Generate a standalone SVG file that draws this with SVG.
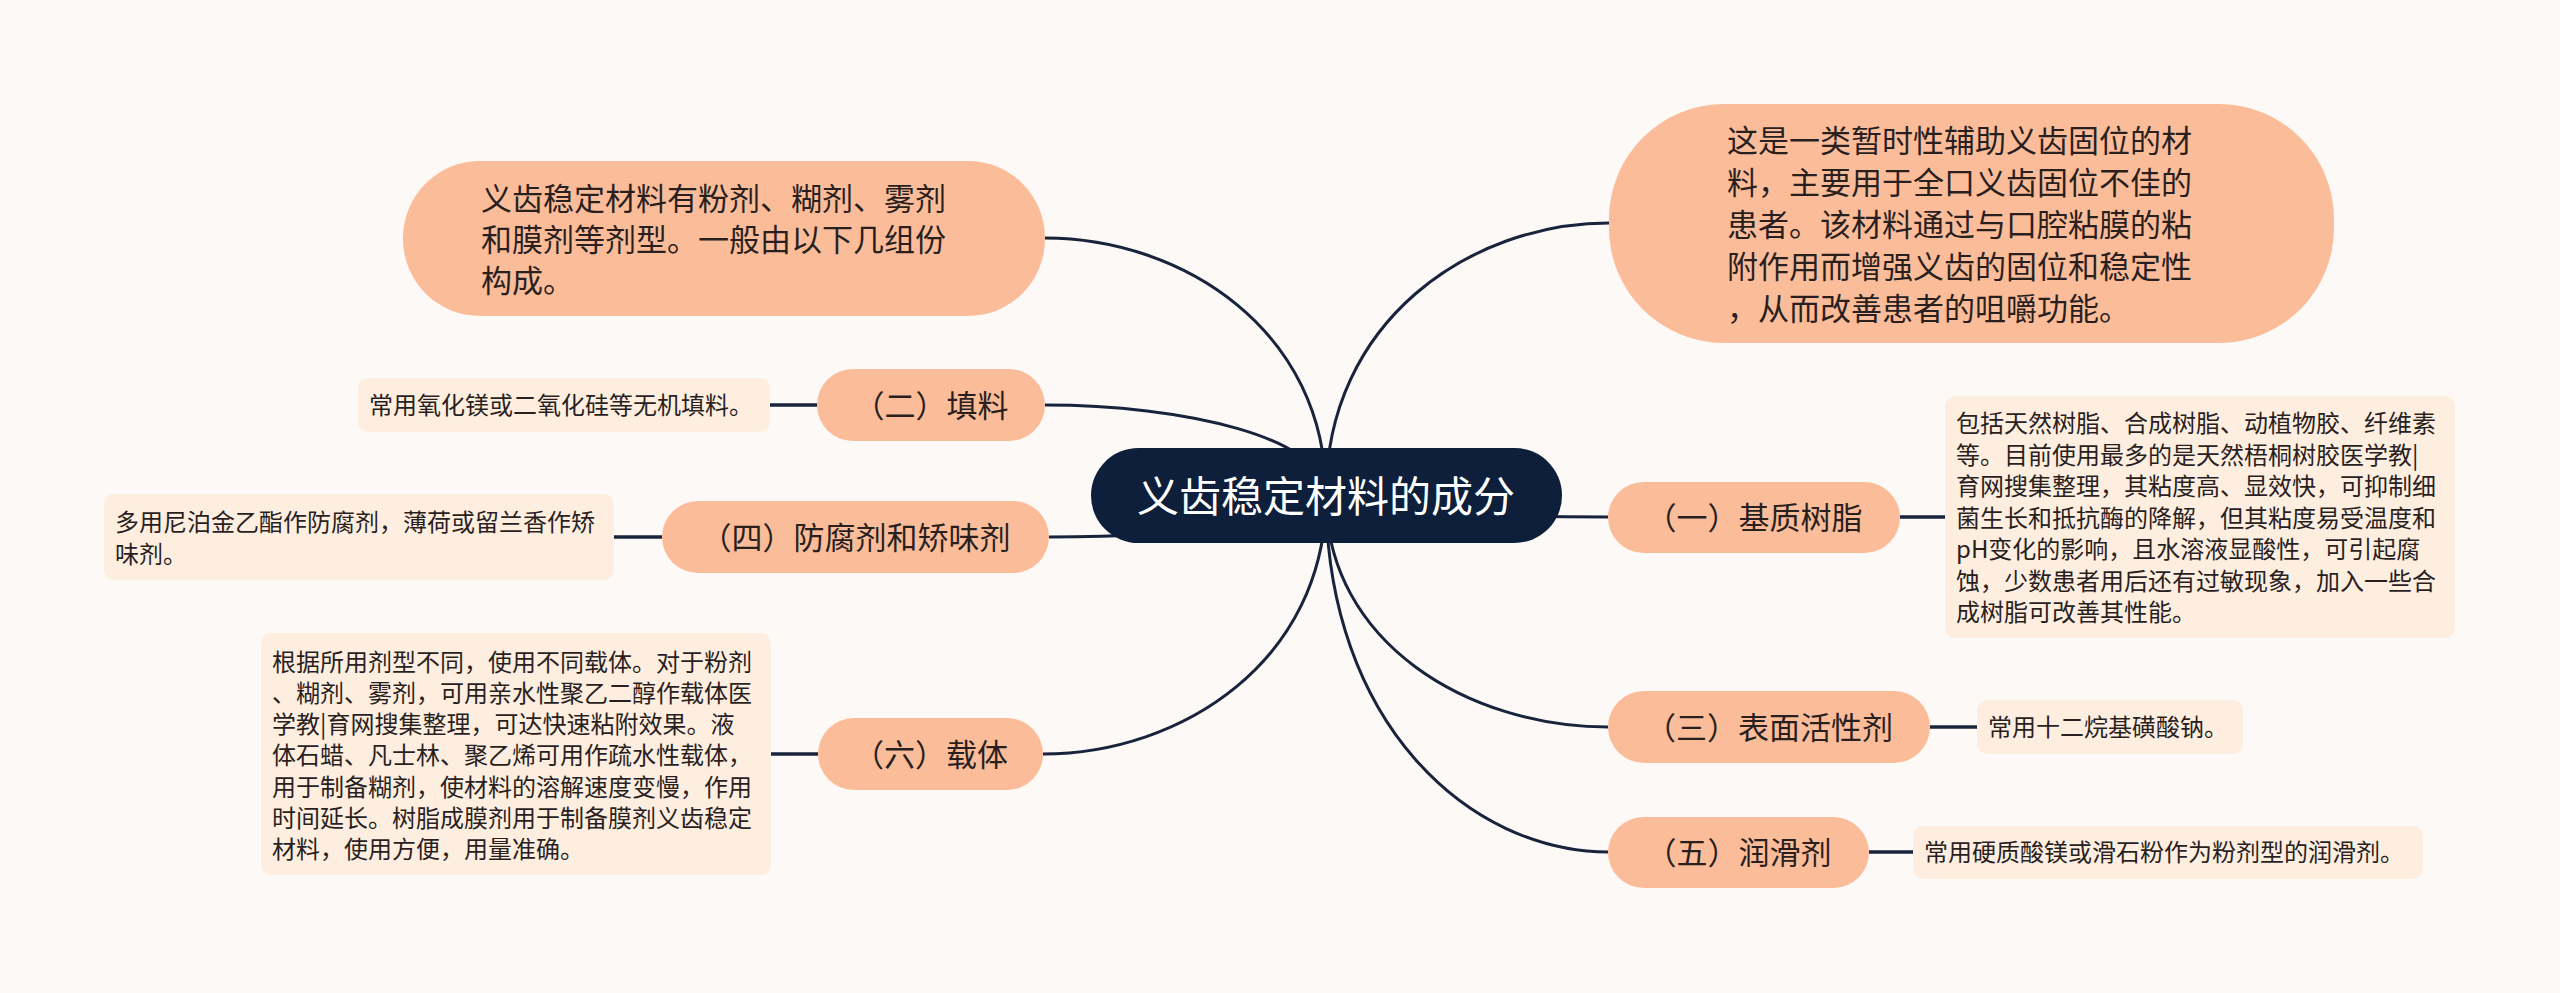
<svg xmlns="http://www.w3.org/2000/svg" width="2560" height="993" viewBox="0 0 2560 993">
<style>
.bg{fill:#fdf9f7}
.main{fill:#fbbd99}
.leaf{fill:#fdeee0}
.root{fill:#0e1f3b}
.ln{fill:none;stroke:#18233c;stroke-width:3}
.lk{fill:none;stroke:#18233c;stroke-width:3.5}
.t{font-family:"Noto Sans CJK SC","Noto Sans",sans-serif;fill:#2a1f1f}
.m{font-size:31px}
.c{text-anchor:middle}
.s{font-size:24px}
.r{font-size:42px;fill:#ffffff;text-anchor:middle}
</style>
<rect class="bg" x="0" y="0" width="2560" height="993"/>
<g id="connectors">
<path class="ln" d="M1326 495 C1326 330.5 1182.7 238 1045 238"/>
<path class="ln" d="M1326 495 C1326 437.4 1182.7 405 1045 405"/>
<path class="ln" d="M1326 495 C1326 521.9 1184.7 537 1049 537"/>
<path class="ln" d="M1326 495 C1326 660.8 1181.7 754 1043 754"/>
<path class="ln" d="M1326 495 C1326 321 1470.3 223 1609 223"/>
<path class="ln" d="M1326 495 C1326 509 1469.8 517 1608 517"/>
<path class="ln" d="M1326 495 C1326 643.5 1469.8 727 1608 727"/>
<path class="ln" d="M1326 495 C1326 723.5 1469.8 852 1608 852"/>
<path class="lk" d="M770 405 H817"/>
<path class="lk" d="M614 537 H662"/>
<path class="lk" d="M771 754 H818"/>
<path class="lk" d="M1900 517 H1945"/>
<path class="lk" d="M1930 727 H1977"/>
<path class="lk" d="M1869 852 H1913"/>
</g>
<g id="root">
<rect class="root" x="1091" y="448" width="471" height="95" rx="47.5"/>
<text class="t r" x="1326" y="512">义齿稳定材料的成分</text>
</g>
<g id="intro-left">
<rect class="main" x="403" y="161" width="642" height="155" rx="77"/>
<text class="t m" x="481" y="209.5">义齿稳定材料有粉剂、糊剂、雾剂</text>
<text class="t m" x="481" y="250.5">和膜剂等剂型。一般由以下几组份</text>
<text class="t m" x="481" y="291.5">构成。</text>
</g>
<g id="intro-right">
<rect class="main" x="1609" y="104" width="725" height="239" rx="115"/>
<text class="t m" x="1727" y="151.5">这是一类暂时性辅助义齿固位的材</text>
<text class="t m" x="1727" y="193.5">料，主要用于全口义齿固位不佳的</text>
<text class="t m" x="1727" y="235.5">患者。该材料通过与口腔粘膜的粘</text>
<text class="t m" x="1727" y="277.5">附作用而增强义齿的固位和稳定性</text>
<text class="t m" x="1727" y="319.5">，从而改善患者的咀嚼功能。</text>
</g>
<g id="n2">
<rect class="main" x="817" y="369" width="228" height="72" rx="36"/>
<text class="t m c" x="931" y="417">（二）填料</text>
</g>
<g id="n2-leaf">
<rect class="leaf" x="358" y="378" width="412" height="54" rx="10"/>
<text class="t s" x="369" y="414">常用氧化镁或二氧化硅等无机填料。</text>
</g>
<g id="n4">
<rect class="main" x="662" y="501" width="387" height="72" rx="36"/>
<text class="t m c" x="855.5" y="549">（四）防腐剂和矫味剂</text>
</g>
<g id="n4-leaf">
<rect class="leaf" x="104" y="494" width="510" height="86" rx="10"/>
<text class="t s" x="115" y="531">多用尼泊金乙酯作防腐剂，薄荷或留兰香作矫</text>
<text class="t s" x="115" y="563">味剂。</text>
</g>
<g id="n6">
<rect class="main" x="818" y="718" width="225" height="72" rx="36"/>
<text class="t m c" x="930.5" y="766">（六）载体</text>
</g>
<g id="n6-leaf">
<rect class="leaf" x="261" y="633" width="510" height="242" rx="10"/>
<text class="t s" x="272" y="670.5">根据所用剂型不同，使用不同载体。对于粉剂</text>
<text class="t s" x="272" y="701.8">、糊剂、雾剂，可用亲水性聚乙二醇作载体医</text>
<text class="t s" x="272" y="733.1">学教|育网搜集整理，可达快速粘附效果。液</text>
<text class="t s" x="272" y="764.4">体石蜡、凡士林、聚乙烯可用作疏水性载体，</text>
<text class="t s" x="272" y="795.7">用于制备糊剂，使材料的溶解速度变慢，作用</text>
<text class="t s" x="272" y="827">时间延长。树脂成膜剂用于制备膜剂义齿稳定</text>
<text class="t s" x="272" y="858.3">材料，使用方便，用量准确。</text>
</g>
<g id="n1">
<rect class="main" x="1608" y="482" width="292" height="71" rx="35.5"/>
<text class="t m c" x="1754" y="529">（一）基质树脂</text>
</g>
<g id="n1-leaf">
<rect class="leaf" x="1945" y="396" width="510" height="242" rx="10"/>
<text class="t s" x="1956" y="432">包括天然树脂、合成树脂、动植物胶、纤维素</text>
<text class="t s" x="1956" y="463.5">等。目前使用最多的是天然梧桐树胶医学教|</text>
<text class="t s" x="1956" y="495">育网搜集整理，其粘度高、显效快，可抑制细</text>
<text class="t s" x="1956" y="526.5">菌生长和抵抗酶的降解，但其粘度易受温度和</text>
<text class="t s" x="1956" y="558">pH变化的影响，且水溶液显酸性，可引起腐</text>
<text class="t s" x="1956" y="589.5">蚀，少数患者用后还有过敏现象，加入一些合</text>
<text class="t s" x="1956" y="621">成树脂可改善其性能。</text>
</g>
<g id="n3">
<rect class="main" x="1608" y="691" width="322" height="72" rx="36"/>
<text class="t m c" x="1769" y="739">（三）表面活性剂</text>
</g>
<g id="n3-leaf">
<rect class="leaf" x="1977" y="700" width="266" height="54" rx="10"/>
<text class="t s" x="1988" y="736">常用十二烷基磺酸钠。</text>
</g>
<g id="n5">
<rect class="main" x="1608" y="817" width="261" height="71" rx="35.5"/>
<text class="t m c" x="1738.5" y="864">（五）润滑剂</text>
</g>
<g id="n5-leaf">
<rect class="leaf" x="1913" y="826" width="510" height="53" rx="10"/>
<text class="t s" x="1924" y="861">常用硬质酸镁或滑石粉作为粉剂型的润滑剂。</text>
</g>
</svg>
